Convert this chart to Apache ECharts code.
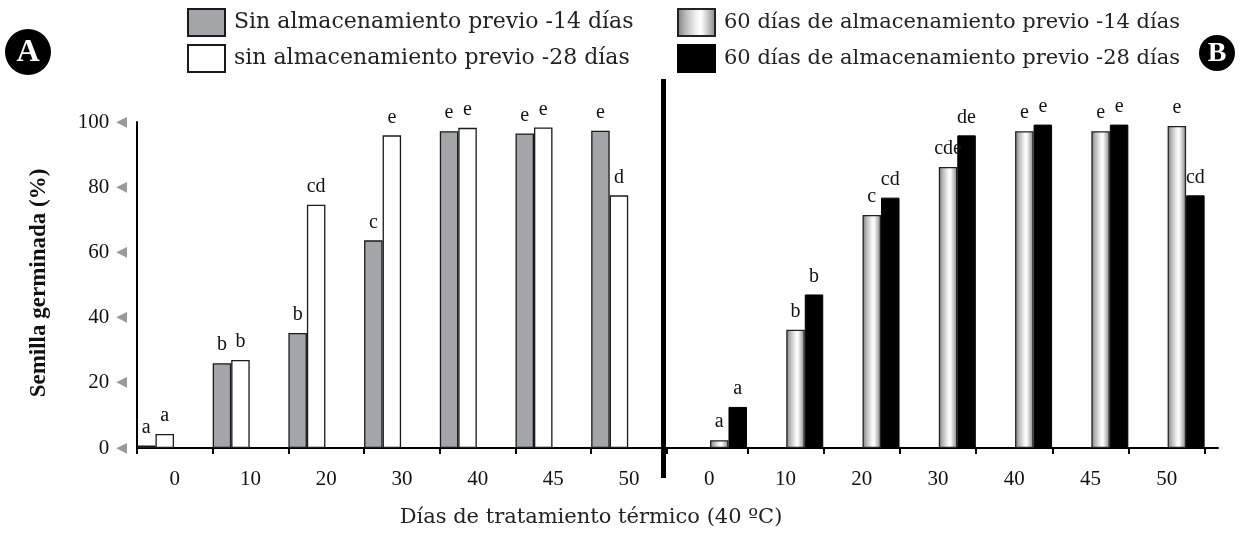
<!DOCTYPE html>
<html>
<head>
<meta charset="utf-8">
<script src="https://cdn.jsdelivr.net/npm/echarts@6/dist/echarts.min.js"></script>
<style>
  html, body { margin: 0; padding: 0; background: #fff; }
  #chart { width: 1249px; height: 542px; }
</style>
</head>
<body>
<div id="chart"></div>
<script>
// Days of heat treatment (40 ºC)
const categories = ['0', '10', '20', '30', '40', '45', '50'];
const yTicks = [0, 20, 40, 60, 80, 100];

// Panel A: seeds without previous storage
const sinAlm14 = [0.8, 26, 35.3, 63.7, 97.2, 96.5, 97.3];
const sinAlm28 = [4.3, 27, 74.6, 95.9, 98.2, 98.3, 77.5];
const sinAlm14Letters = ['a', 'b', 'b', 'c', 'e', 'e', 'e'];
const sinAlm28Letters = ['a', 'b', 'cd', 'e', 'e', 'e', 'd'];

// Panel B: seeds after 60 days of previous storage
const alm60_14 = [2.4, 36.3, 71.5, 86.2, 97.2, 97.2, 98.8];
const alm60_28 = [12.6, 47.1, 76.8, 95.9, 99.2, 99.2, 77.5];
const alm60_14Letters = ['a', 'b', 'c', 'cde', 'e', 'e', 'e'];
const alm60_28Letters = ['a', 'b', 'cd', 'de', 'e', 'e', 'cd'];

const seriesNames = [
  'Sin almacenamiento previo -14 días',
  'sin almacenamiento previo -28 días',
  '60 días de almacenamiento previo -14 días',
  '60 días de almacenamiento previo -28 días'
];

const SERIF = '"Liberation Serif", "Times New Roman", serif';
const TEXT_SERIF = '"DejaVu Serif", serif';

const BAR_W = 18.5;
const CAT_W = 75.7;

const chart = echarts.init(document.getElementById('chart'), null, { renderer: 'canvas' });

function letterLabel(letters) {
  return {
    show: true,
    position: 'top',
    distance: 8,
    fontFamily: SERIF,
    fontSize: 20,
    color: '#111',
    formatter: p => letters[p.dataIndex]
  };
}

const cylinder = new echarts.graphic.LinearGradient(0, 0, 1, 0, [
  { offset: 0, color: '#7c7c7c' },
  { offset: 0.22, color: '#b9b9b9' },
  { offset: 0.5, color: '#f4f4f4' },
  { offset: 0.62, color: '#ffffff' },
  { offset: 0.85, color: '#b4b4b4' },
  { offset: 1, color: '#858585' }
]);

const tickStyle = { color: '#000', width: 2 };

const catAxisCommon = {
  type: 'category',
  data: categories,
  boundaryGap: true,
  axisLine: { show: true, lineStyle: { color: '#000', width: 2 } },
  axisLabel: { fontFamily: SERIF, fontSize: 21, color: '#111', margin: 21 },
  splitLine: { show: false }
};

const valAxisCommon = {
  type: 'value',
  min: 0,
  max: 100,
  interval: 20,
  splitLine: { show: false }
};

function legendBlock(left, names, size) {
  return {
    left: left, top: 8, orient: 'vertical', padding: 0,
    itemWidth: 37, itemHeight: 27, itemGap: 7,
    selectedMode: false, icon: 'rect',
    data: names,
    textStyle: { fontFamily: TEXT_SERIF, fontSize: size, color: '#222', padding: [0, 0, 0, 4] }
  };
}

const option = {
  backgroundColor: '#fff',
  animation: false,
  grid: [
    { left: 137, top: 122, width: CAT_W * 7, height: 326 },
    { left: 671, top: 122, width: CAT_W * 7 + 4, height: 326 },
    { left: 662, top: 122, width: 556, height: 326 }
  ],
  legend: [
    legendBlock(187, [seriesNames[0], seriesNames[1]], 22),
    legendBlock(677, [seriesNames[2], seriesNames[3]], 21)
  ],
  xAxis: [
    Object.assign({}, catAxisCommon, {
      gridIndex: 0,
      axisTick: { show: true, length: 6, interval: 0, lineStyle: tickStyle }
    }),
    Object.assign({}, catAxisCommon, {
      gridIndex: 1,
      axisLine: { show: false },
      axisTick: { show: true, length: 6, interval: (i) => i !== 0, lineStyle: tickStyle }
    }),
    {
      type: 'value', gridIndex: 2, min: 0, max: 1,
      axisLine: { show: true, onZero: false, lineStyle: { color: '#000', width: 2 } },
      axisTick: { show: false }, axisLabel: { show: false }, splitLine: { show: false }
    }
  ],
  yAxis: [
    Object.assign({}, valAxisCommon, {
      gridIndex: 0,
      axisLine: { show: true, lineStyle: { color: '#000', width: 2 } },
      axisTick: { show: false },
      axisLabel: {
        margin: 10,
        formatter: v => '{n|' + v + '}{t|◀}',
        rich: {
          n: { fontFamily: SERIF, fontSize: 21, color: '#111' },
          t: { fontFamily: '"DejaVu Sans", sans-serif', fontSize: 14, color: '#9a9a9a', padding: [0, 0, 0, 7] }
        }
      }
    }),
    Object.assign({}, valAxisCommon, { gridIndex: 1, show: false }),
    { type: 'value', gridIndex: 2, show: false, min: 0, max: 1 }
  ],
  series: [
    {
      name: seriesNames[0], type: 'bar', xAxisIndex: 0, yAxisIndex: 0,
      data: sinAlm14, barWidth: BAR_W, barGap: '0%',
      itemStyle: { color: '#a4a5a8', borderColor: '#1a1a1a', borderWidth: 1.3 },
      label: letterLabel(sinAlm14Letters)
    },
    {
      name: seriesNames[1], type: 'bar', xAxisIndex: 0, yAxisIndex: 0,
      data: sinAlm28, barWidth: BAR_W, barGap: '0%',
      itemStyle: { color: '#ffffff', borderColor: '#1a1a1a', borderWidth: 1.3 },
      label: letterLabel(sinAlm28Letters)
    },
    {
      name: 'espacioA', type: 'bar', xAxisIndex: 0, yAxisIndex: 0,
      data: categories.map(() => '-'), barWidth: CAT_W - 2 * BAR_W, barGap: '0%',
      silent: true, itemStyle: { color: 'rgba(0,0,0,0)' }
    },
    {
      name: 'espacioB', type: 'bar', xAxisIndex: 1, yAxisIndex: 1,
      data: categories.map(() => '-'), barWidth: CAT_W - 2 * BAR_W, barGap: '0%',
      silent: true, itemStyle: { color: 'rgba(0,0,0,0)' }
    },
    {
      name: seriesNames[2], type: 'bar', xAxisIndex: 1, yAxisIndex: 1,
      data: alm60_14, barWidth: BAR_W, barGap: '0%',
      itemStyle: { color: cylinder, borderColor: '#222', borderWidth: 1.3 },
      label: letterLabel(alm60_14Letters)
    },
    {
      name: seriesNames[3], type: 'bar', xAxisIndex: 1, yAxisIndex: 1,
      data: alm60_28, barWidth: BAR_W, barGap: '0%',
      itemStyle: { color: '#000000', borderColor: '#000', borderWidth: 1 },
      label: letterLabel(alm60_28Letters)
    }
  ],
  graphic: [
    // separator between panels A and B
    { type: 'rect', shape: { x: 661, y: 79, width: 5, height: 399 }, style: { fill: '#000' }, z: 50 },
    // panel badges
    { type: 'circle', shape: { cx: 28, cy: 52, r: 23 }, style: { fill: '#000' } },
    { type: 'text', x: 28, y: 53, style: { text: 'A', fill: '#fff', font: 'bold 32px ' + SERIF, align: 'center', verticalAlign: 'middle' } },
    { type: 'circle', shape: { cx: 1217, cy: 53, r: 18 }, style: { fill: '#000' } },
    { type: 'text', x: 1217, y: 54, style: { text: 'B', fill: '#fff', font: 'bold 28px ' + SERIF, align: 'center', verticalAlign: 'middle' } },
    // axis titles
    { type: 'text', x: 591, y: 518, style: { text: 'Días de tratamiento térmico (40 ºC)', fill: '#222', font: '21px ' + TEXT_SERIF, align: 'center', verticalAlign: 'middle' } },
    { type: 'text', x: 39, y: 283, rotation: Math.PI / 2, style: { text: 'Semilla germinada (%)', fill: '#111', font: 'bold 23px ' + SERIF, align: 'center', verticalAlign: 'middle' } }
  ]
};

chart.setOption(option);
</script>
</body>
</html>
